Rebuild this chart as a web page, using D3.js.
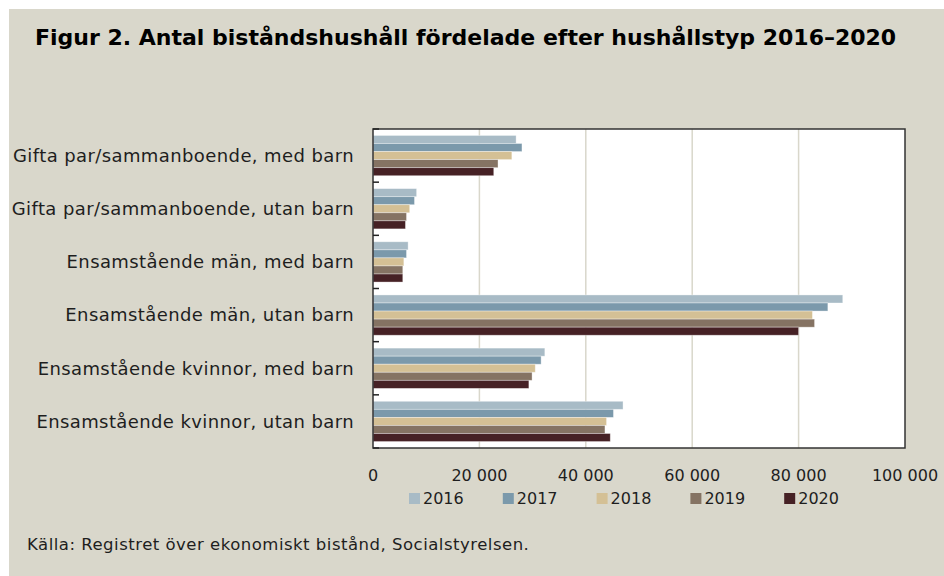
<!DOCTYPE html>
<html>
<head>
<meta charset="utf-8">
<script src="https://cdn.jsdelivr.net/npm/d3@7"></script>
<style>
  html, body { margin: 0; padding: 0; background: #fff; }
  svg { display: block; }
  text { font-family: "DejaVu Sans", sans-serif; fill: #1e1e1e; }
</style>
</head>
<body>
<svg id="chart" width="944" height="576"></svg>
<script>
const categories = [
  "Gifta par/sammanboende, med barn",
  "Gifta par/sammanboende, utan barn",
  "Ensamstående män, med barn",
  "Ensamstående män, utan barn",
  "Ensamstående kvinnor, med barn",
  "Ensamstående kvinnor, utan barn",
];
const years = ["2016", "2017", "2018", "2019", "2020"];
const v2016 = [26900, 8200, 6600, 88300, 32300, 47000];
const v2017 = [28000, 7800, 6300, 85500, 31600, 45200];
const v2018 = [26100, 6900, 5800, 82600, 30500, 43900];
const v2019 = [23500, 6300, 5600, 83000, 29900, 43600];
const v2020 = [22700, 6100, 5600, 80000, 29300, 44600];
const xTicks = [0, 20000, 40000, 60000, 80000, 100000];
const colors = ["#a8bbc6", "#7b99ab", "#d4c095", "#857363", "#462125"];

const series = [v2016, v2017, v2018, v2019, v2020];
const rows = categories.flatMap((cat, i) =>
  years.map((year, j) => ({ cat, year, value: series[j][i] }))
);

const margin = { top: 129, right: 39, bottom: 128, left: 373 };
const width = 944, height = 576;

const svg = d3.select("#chart");

// beige frame
svg.append("rect")
  .attr("x", 9).attr("y", 9)
  .attr("width", width - 9).attr("height", height - 9)
  .attr("fill", "#d9d7cb");

svg.append("text")
  .attr("x", 35).attr("y", 45)
  .style("font-size", "22px")
  .style("font-weight", "bold")
  .style("fill", "#000")
  .text("Figur 2. Antal biståndshushåll fördelade efter hushållstyp 2016–2020");

const x = d3.scaleLinear()
  .domain([0, 100000])
  .range([margin.left, width - margin.right]);

const y = d3.scaleBand()
  .domain(categories)
  .range([margin.top, height - margin.bottom]);

const y1 = d3.scaleBand()
  .domain(years)
  .range([0, y.bandwidth()])
  .paddingOuter(0.8);

const color = d3.scaleOrdinal().domain(years).range(colors);

// plot background
svg.append("rect")
  .attr("x", x(0)).attr("y", margin.top)
  .attr("width", x(100000) - x(0))
  .attr("height", height - margin.bottom - margin.top)
  .attr("fill", "#fff");

// gridlines
svg.append("g")
  .selectAll("line")
  .data(xTicks.slice(1, -1))
  .join("line")
  .attr("x1", (d) => x(d)).attr("x2", (d) => x(d))
  .attr("y1", margin.top).attr("y2", height - margin.bottom)
  .attr("stroke", "#d9d7cb")
  .attr("stroke-width", 1.5);

// bars
svg.append("g")
  .selectAll("rect")
  .data(rows)
  .join("rect")
  .attr("x", x(0))
  .attr("y", (d) => y(d.cat) + y1(d.year))
  .attr("width", (d) => x(d.value) - x(0))
  .attr("height", y1.bandwidth())
  .attr("fill", (d) => color(d.year))
  .attr("stroke", "#fff")
  .attr("stroke-opacity", 0.45)
  .attr("stroke-width", 0.8);

// frame
svg.append("rect")
  .attr("x", x(0)).attr("y", margin.top)
  .attr("width", x(100000) - x(0))
  .attr("height", height - margin.bottom - margin.top)
  .attr("fill", "none")
  .attr("stroke", "#333")
  .attr("stroke-width", 1.5);

// category ticks (inside)
const bounds = categories.map((c) => y(c)).concat([height - margin.bottom]);
svg.append("g")
  .selectAll("line")
  .data(bounds)
  .join("line")
  .attr("x1", x(0)).attr("x2", x(0) + 6)
  .attr("y1", (d) => d).attr("y2", (d) => d)
  .attr("stroke", "#222")
  .attr("stroke-width", 1.5);

// category labels
svg.append("g")
  .selectAll("text")
  .data(categories)
  .join("text")
  .attr("x", 354)
  .attr("y", (d) => y(d) + y.bandwidth() / 2)
  .attr("dy", "0.35em")
  .attr("text-anchor", "end")
  .style("font-size", "18px")
  .style("letter-spacing", "0.4px")
  .text((d) => d);

// x tick labels
const fmt = (d) => d3.format(",")(d).replace(/,/g, " ");
svg.append("g")
  .selectAll("text")
  .data(xTicks)
  .join("text")
  .attr("x", (d) => x(d))
  .attr("y", 481)
  .attr("text-anchor", "middle")
  .style("font-size", "16px")
  .text(fmt);

// legend
const legend = svg.append("g")
  .selectAll("g")
  .data(years)
  .join("g")
  .attr("transform", (d, i) => `translate(${409 + i * 93.8},493)`);
legend.append("rect")
  .attr("width", 11).attr("height", 11)
  .attr("fill", (d) => color(d));
legend.append("text")
  .attr("x", 14).attr("y", 5.5)
  .attr("dy", "0.36em")
  .style("font-size", "16px")
  .text((d) => d);

svg.append("text")
  .attr("x", 27).attr("y", 550)
  .style("font-size", "16.5px")
  .style("letter-spacing", "0.5px")
  .text("Källa: Registret över ekonomiskt bistånd, Socialstyrelsen.");
</script>
</body>
</html>
